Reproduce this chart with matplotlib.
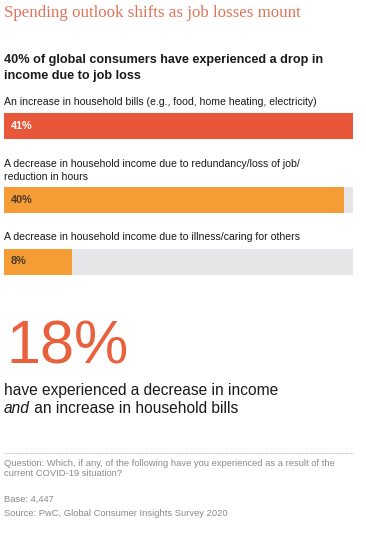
import matplotlib.pyplot as plt

# data
labels = [
    'An increase in household bills (e.g., food, home heating, electricity)',
    'A decrease in household income due to redundancy/loss of job/\nreduction in hours',
    'A decrease in household income due to illness/caring for others',
]
values = [41, 40, 8]
track_max = 41
highlight = '18%'

W, H = 366, 533
fig = plt.figure(figsize=(W / 100, H / 100), dpi=100)
plt.rcParams['font.family'] = ['Liberation Sans', 'DejaVu Sans']


def fy(py):
    return 1 - py / H


def txt(px, py, s, **kw):
    return fig.text(px / W, fy(py), s, **kw)


# headings
txt(4, 17, 'Spending outlook shifts as job losses mount', family='Liberation Serif',
    fontsize=12.2, color='#e2735a', va='baseline')
txt(4, 63, '40% of global consumers have experienced a drop in', fontsize=9.1,
    fontweight='bold', color='#1a1a1a', va='baseline')
txt(4, 79, 'income due to job loss', fontsize=9.1, fontweight='bold',
    color='#1a1a1a', va='baseline')

# bars
ax = fig.add_axes([4 / W, fy(276), 349 / W, (276 - 112) / H])
ax.set_xlim(0, track_max)
ax.set_ylim(276, 112)
ax.axis('off')
centers = [126, 200, 261.5]
colors = ['#e8573a', '#f59c35', '#f59c35']
text_colors = ['white', '#4a3a2a', '#4a3a2a']
ax.barh(centers, [track_max] * 3, height=26, color='#e6e6e8', left=0)
ax.barh(centers, values, height=26, color=colors, left=0)
for c, v, tc in zip(centers, values, text_colors):
    ax.text(0.75, c, f'{v}%', color=tc, fontsize=7.8, fontweight='bold', va='center')

label_pos = [105, 167, 240]
for lab, py in zip(labels, label_pos):
    lines = lab.split('\n')
    for i, line in enumerate(lines):
        txt(4, py + i * 13, line, fontsize=7.6, color='#1a1a1a', va='baseline')

# big number
txt(6, 363, highlight, fontsize=44, color='#e8603c', va='baseline')
txt(4, 395, 'have experienced a decrease in income', fontsize=11.2,
    color='#1a1a1a', va='baseline')
t_and = txt(4, 416, 'and', fontsize=11.2, color='#1a1a1a', va='bottom', style='italic')
ax.annotate(' an increase in household bills', xy=(1, 0), xycoords=t_and,
            fontsize=11.2, color='#1a1a1a', va='bottom', ha='left', annotation_clip=False)

# footer
fig.add_artist(plt.Line2D([4 / W, 353 / W], [fy(453), fy(453)], color='#a8a8a8',
                          linestyle=(0, (1, 1)), linewidth=0.6))
grey = '#8a8a8a'
txt(4, 466, 'Question: Which, if any, of the following have you experienced as a result of the',
    fontsize=6.75, color=grey, va='baseline')
txt(4, 476.5, 'current COVID-19 situation?', fontsize=6.75, color=grey, va='baseline')
txt(4, 502, 'Base: 4,447', fontsize=6.75, color=grey, va='baseline')
txt(4, 516, 'Source: PwC, Global Consumer Insights Survey 2020', fontsize=6.75,
    color=grey, va='baseline')

fig.savefig('out.png', dpi=100, facecolor='white')
